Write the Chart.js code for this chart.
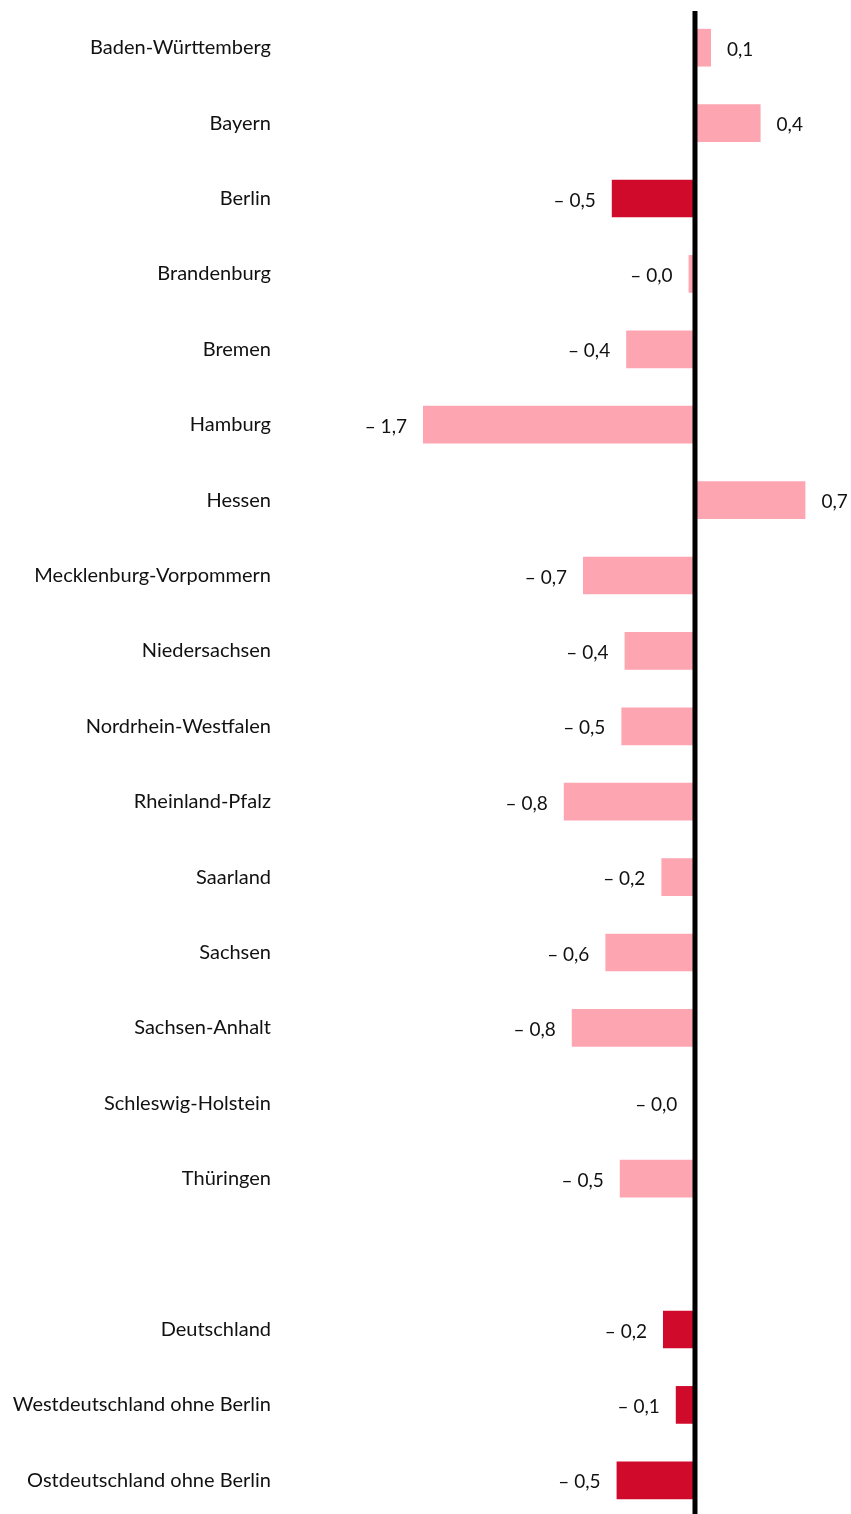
<!DOCTYPE html>
<html>
<head>
<meta charset="utf-8">
<script src="https://cdn.jsdelivr.net/npm/chart.js@4.4.1/dist/chart.umd.min.js"></script>
<style>
  html, body { margin: 0; padding: 0; background: #fff; overflow: hidden; }
  #wrap { width: 851px; height: 1518px; position: relative; }
</style>
</head>
<body>
<div id="wrap"><canvas id="grafico"></canvas></div>
<script>
// DATOS
const laender = [
  'Baden-Württemberg', 'Bayern', 'Berlin', 'Brandenburg', 'Bremen', 'Hamburg',
  'Hessen', 'Mecklenburg-Vorpommern', 'Niedersachsen', 'Nordrhein-Westfalen',
  'Rheinland-Pfalz', 'Saarland', 'Sachsen', 'Sachsen-Anhalt', 'Schleswig-Holstein',
  'Thüringen', '', 'Deutschland', 'Westdeutschland ohne Berlin', 'Ostdeutschland ohne Berlin'
];
const werte = [
  0.1, 0.41, -0.52, -0.04, -0.43, -1.7,
  0.69, -0.7, -0.44, -0.46,
  -0.82, -0.21, -0.56, -0.77, -0.01,
  -0.47, null, -0.2, -0.12, -0.49
];
// dunkel = hervorgehoben
const hervorgehoben = [
  false, false, true, false, false, false,
  false, false, false, false,
  false, false, false, false, false,
  false, false, true, true, true
];

const hell = '#fda6b2';
const dunkel = '#cf0a2b';
const schrift = 'Lato, "Noto Sans", sans-serif';

function formatWert(v) {
  const r = (Math.round(Math.abs(v) * 10) / 10).toFixed(1).replace('.', ',');
  return v < 0 ? '\u2013 ' + r : r;
}

// etiquetas de valor + linea cero
const extras = {
  id: 'extras',
  afterDatasetsDraw(chart) {
    const ctx = chart.ctx;
    const meta = chart.getDatasetMeta(0);
    ctx.save();
    ctx.font = '19px ' + schrift;
    ctx.fillStyle = '#111';
    ctx.textBaseline = 'middle';
    meta.data.forEach((bar, i) => {
      const v = werte[i];
      if (v === null) return;
      if (v >= 0) {
        ctx.textAlign = 'left';
        ctx.fillText(formatWert(v), bar.x + 16, bar.y + 2);
      } else {
        ctx.textAlign = 'right';
        ctx.fillText(formatWert(v), bar.x - 16, bar.y + 2);
      }
    });
    const x0 = chart.scales.x.getPixelForValue(0);
    ctx.fillStyle = '#000';
    ctx.fillRect(x0 - 2.5, 11, 5, chart.height - 11);
    ctx.restore();
  }
};

const ctx = document.getElementById('grafico').getContext('2d');
const grafico = new Chart(ctx, {
  type: 'bar',
  data: {
    labels: laender,
    datasets: [{
      data: werte,
      backgroundColor: hervorgehoben.map(h => h ? dunkel : hell),
      borderWidth: 0,
      barPercentage: 0.5,
      categoryPercentage: 1
    }]
  },
  options: {
    indexAxis: 'y',
    responsive: true,
    maintainAspectRatio: false,
    animation: false,
    layout: { padding: { top: 10, bottom: 0, left: 0, right: 0 } },
    plugins: {
      legend: { display: false },
      tooltip: { enabled: false }
    },
    scales: {
      x: {
        display: false,
        min: -2.531,
        max: 0.975
      },
      y: {
        grid: { display: false, drawTicks: false },
        border: { display: false },
        ticks: {
          padding: 19,
          color: '#111',
          font: { family: schrift, size: 20 }
        },
        afterFit(scale) {
          scale.width = 290;
          scale.paddingTop = 0;
          scale.paddingBottom = 0;
        }
      }
    }
  },
  plugins: [extras]
});
</script>
</body>
</html>
